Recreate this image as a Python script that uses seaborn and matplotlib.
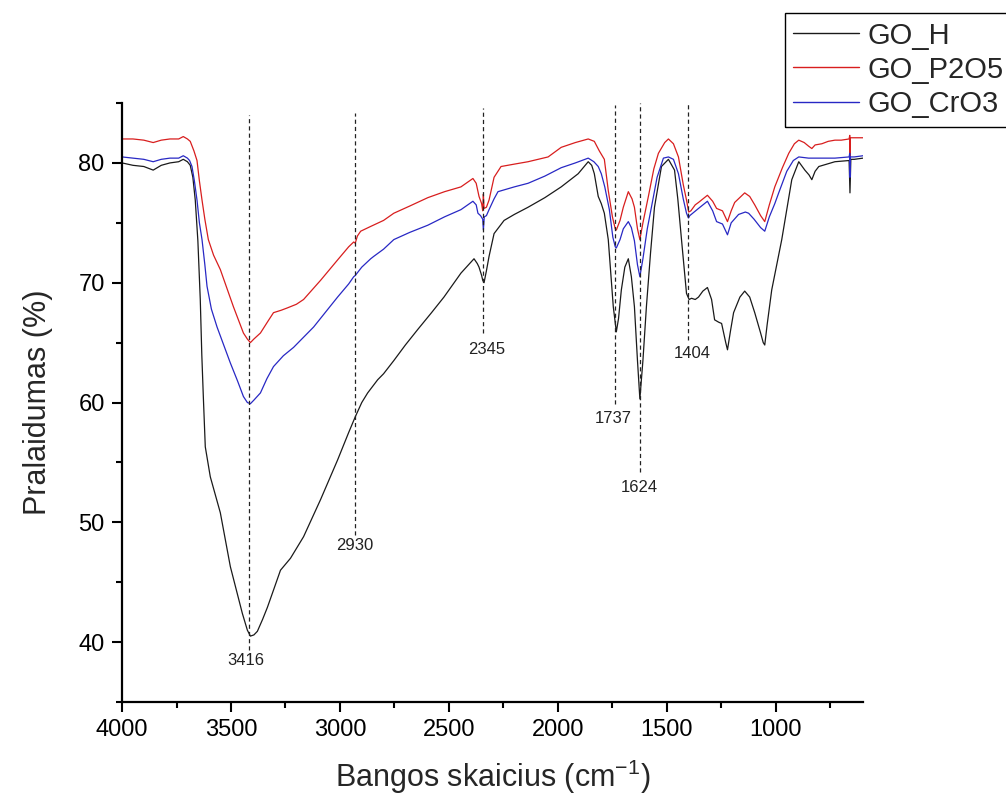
import matplotlib
matplotlib.use("Agg")
import matplotlib.pyplot as plt
import numpy as np
import pandas as pd
import seaborn as sns
from matplotlib.patches import Rectangle
from matplotlib.ticker import MultipleLocator

# FTIR transmittance spectra (wavenumber in cm^-1, transmittance in %)
go_h_wn = [4000, 3950, 3900, 3857, 3820, 3780, 3740, 3719, 3700, 3687,
           3675, 3664, 3652, 3641, 3634, 3627, 3618, 3595, 3549, 3503,
           3448, 3425, 3411, 3395, 3379, 3355, 3333, 3300, 3273, 3227,
           3167, 3089, 3011, 2960, 2930, 2900, 2873, 2827, 2800, 2753,
           2700, 2643, 2580, 2523, 2445, 2385, 2370, 2362, 2350, 2345,
           2339, 2328, 2316, 2293, 2247, 2200, 2137, 2060, 1985, 1907,
           1861, 1845, 1833, 1815, 1801, 1787, 1769, 1746, 1732, 1722,
           1709, 1693, 1677, 1663, 1649, 1635, 1624, 1610, 1594, 1575,
           1557, 1525, 1493, 1465, 1450, 1433, 1410, 1398, 1387, 1370,
           1355, 1335, 1314, 1295, 1281, 1262, 1249, 1230, 1222, 1208,
           1194, 1165, 1143, 1120, 1097, 1070, 1058, 1051, 1040, 1019,
           973, 927, 895, 867, 848, 835, 820, 803, 729, 664,
           660, 656, 640, 600]
go_h_t = [80.0, 79.8, 79.7, 79.4, 79.8, 80.0, 80.1, 80.3, 80.1, 79.8,
          78.8, 76.9, 73.5, 68.6, 64.0, 60.5, 56.3, 53.8, 50.8, 46.3,
          42.4, 41.0, 40.5, 40.6, 40.9, 41.9, 42.9, 44.6, 46.0, 47.0,
          48.8, 51.9, 55.2, 57.5, 58.8, 60.0, 60.8, 61.9, 62.4, 63.5,
          64.8, 66.1, 67.5, 68.8, 70.8, 72.0, 71.6, 71.3, 70.6, 70.2,
          70.0, 71.0, 72.2, 74.1, 75.2, 75.7, 76.3, 77.1, 78.0, 79.1,
          80.1, 79.8, 79.1, 77.2, 76.6, 75.8, 73.6, 68.0, 65.9, 67.0,
          69.4, 71.3, 72.0, 70.5, 68.0, 63.5, 60.3, 63.5, 68.0, 72.5,
          76.3, 79.7, 80.3, 79.4, 77.0, 73.6, 69.1, 68.6, 68.7, 68.6,
          68.8, 69.3, 69.6, 68.6, 66.9, 66.7, 66.6, 65.0, 64.4, 66.0,
          67.5, 68.8, 69.3, 68.8, 67.5, 65.8, 65.0, 64.8, 66.5, 69.4,
          73.6, 78.6, 80.1, 79.4, 79.0, 78.6, 79.3, 79.7, 80.1, 80.2,
          77.5, 80.3, 80.3, 80.4]

go_p2o5_wn = [4000, 3950, 3900, 3857, 3820, 3780, 3740, 3719, 3700, 3687,
              3670, 3656, 3645, 3633, 3620, 3604, 3580, 3549, 3489, 3443,
              3425, 3411, 3395, 3365, 3330, 3305, 3270, 3241, 3200, 3167,
              3089, 3011, 2960, 2937, 2930, 2920, 2905, 2859, 2800, 2753,
              2680, 2597, 2520, 2445, 2390, 2375, 2362, 2350, 2345, 2342,
              2339, 2328, 2316, 2293, 2261, 2200, 2137, 2045, 1985, 1920,
              1861, 1833, 1810, 1787, 1769, 1750, 1737, 1732, 1715, 1700,
              1677, 1660, 1649, 1635, 1624, 1610, 1585, 1560, 1539, 1510,
              1493, 1470, 1447, 1425, 1410, 1400, 1390, 1370, 1355, 1314,
              1290, 1272, 1245, 1222, 1205, 1189, 1143, 1120, 1097, 1070,
              1051, 1030, 1005, 970, 941, 915, 895, 870, 850, 835,
              820, 789, 760, 729, 700, 664, 661, 660, 658, 640,
              600]
go_p2o5_t = [82.0, 82.0, 81.9, 81.7, 81.9, 82.0, 82.0, 82.2, 82.0, 81.8,
             81.0, 80.2, 78.5, 76.9, 75.3, 73.6, 72.3, 71.1, 68.0, 65.8,
             65.3, 65.0, 65.3, 65.8, 66.8, 67.5, 67.7, 67.9, 68.2, 68.6,
             70.2, 71.9, 73.0, 73.4, 73.3, 73.9, 74.3, 74.7, 75.2, 75.8,
             76.4, 77.1, 77.6, 78.0, 78.7, 78.3, 77.2, 76.6, 76.0, 77.4,
             76.2, 76.3, 76.9, 78.8, 79.7, 79.9, 80.1, 80.5, 81.3, 81.7,
             82.0, 81.8, 81.0, 80.3, 77.7, 75.5, 74.5, 74.4, 75.2, 76.3,
             77.6, 77.0, 76.3, 74.5, 73.6, 75.0, 77.2, 79.5, 80.8, 81.7,
             82.0, 81.6, 80.5, 78.2, 76.9, 75.9, 76.0, 76.5, 76.7, 77.3,
             76.8, 76.2, 76.0, 75.1, 76.0, 76.7, 77.5, 77.2, 76.5, 75.6,
             75.1, 76.5, 78.0, 79.6, 80.8, 81.6, 81.9, 81.7, 81.4, 81.2,
             81.5, 81.6, 81.8, 81.9, 81.9, 82.0, 82.3, 80.3, 82.1, 82.1,
             82.1]

go_cro3_wn = [4000, 3950, 3900, 3857, 3820, 3780, 3740, 3719, 3700, 3690,
              3679, 3668, 3656, 3645, 3633, 3620, 3610, 3590, 3564, 3503,
              3470, 3443, 3425, 3411, 3395, 3365, 3335, 3305, 3260, 3213,
              3121, 3011, 2960, 2937, 2930, 2900, 2859, 2845, 2800, 2753,
              2680, 2597, 2520, 2445, 2390, 2375, 2367, 2355, 2345, 2342,
              2338, 2328, 2316, 2293, 2275, 2200, 2137, 2060, 1985, 1920,
              1861, 1835, 1815, 1801, 1785, 1764, 1748, 1737, 1732, 1715,
              1700, 1677, 1663, 1649, 1635, 1624, 1610, 1590, 1571, 1545,
              1516, 1493, 1470, 1447, 1425, 1410, 1401, 1395, 1375, 1355,
              1314, 1290, 1272, 1245, 1222, 1205, 1171, 1140, 1125, 1100,
              1070, 1051, 1030, 1005, 987, 950, 920, 895, 850, 800,
              729, 664, 661, 660, 658, 640, 600]
go_cro3_t = [80.5, 80.4, 80.3, 80.1, 80.3, 80.4, 80.4, 80.6, 80.4, 80.2,
             79.7, 78.5, 76.9, 75.0, 73.6, 71.5, 69.7, 67.8, 66.3, 63.3,
             61.8, 60.5, 60.0, 59.9, 60.2, 60.8, 62.0, 63.0, 63.9, 64.6,
             66.3, 68.8, 69.9, 70.5, 70.6, 71.3, 72.0, 72.2, 72.8, 73.6,
             74.2, 74.8, 75.5, 76.1, 76.8, 76.5, 75.8, 75.6, 75.3, 74.4,
             75.5, 75.6, 76.1, 77.0, 77.6, 78.0, 78.3, 78.9, 79.6, 80.0,
             80.4, 80.1, 79.7, 79.1, 78.0, 76.1, 73.8, 73.0, 72.9, 73.6,
             74.5, 75.1, 74.6, 73.5, 71.5, 70.5, 72.0, 74.5, 76.3, 78.8,
             80.4, 80.5, 80.3, 79.1, 77.0, 75.8, 75.4, 75.6, 75.9, 76.2,
             76.8, 76.0, 75.1, 74.9, 74.0, 75.0, 75.7, 75.9, 75.8, 75.3,
             74.6, 74.3, 75.5, 76.6, 77.5, 79.3, 80.2, 80.5, 80.4, 80.4,
             80.4, 80.5, 80.8, 78.8, 80.5, 80.5, 80.6]

sample_names = ["GO_H", "GO_P2O5", "GO_CrO3"]
sample_colors = ["#1a1a1a", "#d81e1e", "#2828c4"]

# Marked absorption bands
peaks = [3416, 2930, 2345, 1737, 1624, 1404]
peak_labels = [str(p) for p in peaks]

# Guide line extents and label placement for each band
guide_top = [84.0, 84.2, 84.6, 84.8, 85.0, 85.0]
guide_bottom = [39.3, 48.9, 65.8, 59.9, 54.2, 65.2]
label_x = [3430, 2933, 2327, 1746, 1627, 1385]
label_y = [38.5, 48.1, 64.4, 58.7, 52.9, 64.1]

sns.set_theme(style="ticks")
plt.rcParams["font.family"] = ["Liberation Sans", "DejaVu Sans"]
plt.rcParams["mathtext.default"] = "regular"
plt.rcParams["lines.scale_dashes"] = False

frames = []
for name, wn, t in zip(sample_names,
                       [go_h_wn, go_p2o5_wn, go_cro3_wn],
                       [go_h_t, go_p2o5_t, go_cro3_t]):
    frames.append(pd.DataFrame({"wn": wn, "T": t, "sample": name}))
df = pd.concat(frames, ignore_index=True)

fig = plt.figure(figsize=(10.06, 7.98), dpi=100)
ax = fig.add_axes([0.1213, 0.1203, 0.7366, 0.7506])

sns.lineplot(data=df, x="wn", y="T", hue="sample", hue_order=sample_names,
             palette=sample_colors, sort=False, estimator=None,
             linewidth=0.9, ax=ax)

for p, y0, y1, lx, ly, lab in zip(peaks, guide_bottom, guide_top,
                                   label_x, label_y, peak_labels):
    ax.plot([p, p], [y0, y1], color="#222222", linewidth=0.9,
            linestyle=(0, (3.0, 2.2)))
    ax.text(lx, ly, lab, ha="center", va="center", fontsize=12,
            color="#222222")

ax.set_xlim(4000, 600)
ax.set_ylim(35, 85)
ax.xaxis.set_major_locator(MultipleLocator(500))
ax.xaxis.set_minor_locator(MultipleLocator(250))
ax.yaxis.set_major_locator(MultipleLocator(10))
ax.yaxis.set_minor_locator(MultipleLocator(5))

for side in ["top", "right"]:
    ax.spines[side].set_visible(False)
for side in ["left", "bottom"]:
    ax.spines[side].set_linewidth(1.6)
    ax.spines[side].set_color("black")

ax.tick_params(axis="both", which="major", direction="out", length=7.5,
               width=1.5, labelsize=17, color="black", labelcolor="black",
               pad=5)
ax.tick_params(axis="both", which="minor", direction="out", length=4,
               width=1.5, color="black")

ax.set_xlabel("Bangos skaicius (cm$^{-1}$)", fontsize=22, labelpad=12)
ax.set_ylabel("Pralaidumas (%)", fontsize=22, labelpad=18)

handles, labels = ax.get_legend_handles_labels()
leg = ax.legend(handles, labels, loc="upper left",
                bbox_to_anchor=(0.780, 0.984), bbox_transform=fig.transFigure,
                fontsize=21, frameon=False, borderpad=0.3, labelspacing=0.21,
                handlelength=2.25, handletextpad=0.3, borderaxespad=0)
for line in leg.get_lines():
    line.set_linewidth(1.0)

# Legend box: open on the right, running past the figure edge
fig.canvas.draw()
bb = leg.get_window_extent().transformed(fig.transFigure.inverted())
box = Rectangle((bb.x0, bb.y0), 1.2 - bb.x0, bb.height,
                transform=fig.transFigure, fill=False, edgecolor="black",
                linewidth=1.0, clip_on=False)
fig.add_artist(box)

fig.savefig("out.png", dpi=100)
